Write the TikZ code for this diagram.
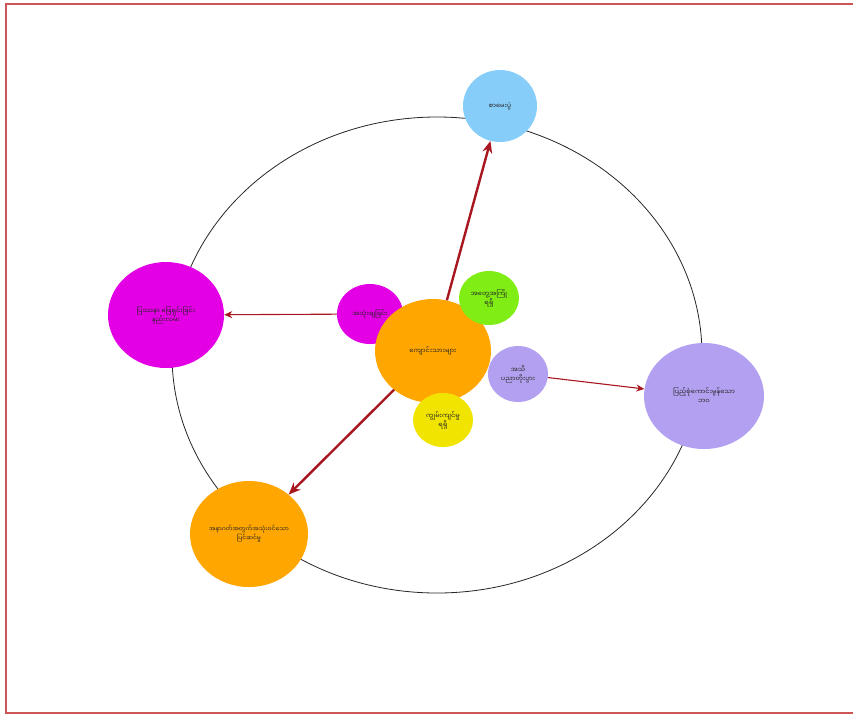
\documentclass[tikz,border=0pt]{standalone}
\usepackage{fontspec}
\newfontfamily\mya[Script=Myanmar]{Noto Sans Myanmar UI}
\usetikzlibrary{shapes.geometric,arrows.meta}
\definecolor{framered}{RGB}{205,85,85}
\definecolor{arrred}{RGB}{168,22,32}
\definecolor{skyb}{RGB}{135,205,250}
\definecolor{magen}{RGB}{228,0,228}
\definecolor{orng}{RGB}{255,166,0}
\definecolor{lgreen}{RGB}{128,238,20}
\definecolor{lav}{RGB}{180,160,240}
\definecolor{yel}{RGB}{240,228,0}
\tikzset{
  bubble/.style={ellipse, draw=none, inner sep=0pt, align=center,
    font=\mya\fontsize{6.6}{9}\selectfont, text=black!85},
  bigarrow/.style={draw=arrred, line width=2.4pt, -{Stealth[length=12pt,width=10pt,inset=4pt]}},
  thinarrow/.style={draw=arrred, line width=1.1pt, -{Stealth[length=8pt,width=7pt,inset=2.5pt]}},
}
\begin{document}
\begin{tikzpicture}[x=1pt,y=-1pt]
\useasboundingbox (0,0) rectangle (853,716);
\fill[white] (0,0) rectangle (853,716);
\draw[framered, line width=1.6pt] (854,4) -- (6,4) -- (6,713) -- (854,713);
\draw[black!85, line width=0.8pt] (437,355) ellipse [x radius=265pt, y radius=238pt];
\node[bubble, fill=skyb, minimum width=74pt, minimum height=72pt] (top) at (500,106) {စာမေးပွဲ};
\node[bubble, fill=magen, minimum width=116pt, minimum height=106pt] (left) at (166,315) {ပြဿနာ ဖြေရှင်းခြင်း\\နည်းလမ်း};
\node[bubble, fill=magen, minimum width=66pt, minimum height=60pt] (sml) at (370,314) {အသုံးချခြင်း};
\node[bubble, fill=orng, minimum width=116pt, minimum height=104pt] (ctr) at (433,351) {ကျောင်းသားများ};
\node[bubble, fill=lgreen, minimum width=60pt, minimum height=54pt] (grn) at (489,298) {အတွေ့အကြုံ\\ရရှိ};
\node[bubble, fill=lav, minimum width=60pt, minimum height=56pt] (slav) at (518,374) {အသိ\\ပညာတိုးပွား};
\node[bubble, fill=yel, minimum width=60pt, minimum height=54pt] (yl) at (443,420) {ကျွမ်းကျင်မှု\\ရရှိ};
\node[bubble, fill=lav, minimum width=120pt, minimum height=106pt] (right) at (704,396) {ပြည့်စုံကောင်းမွန်သော\\ဘဝ};
\node[bubble, fill=orng, minimum width=118pt, minimum height=106pt, font=\mya\fontsize{6}{9}\selectfont] (bl) at (249,534) {အနာဂတ်အတွက်အသုံးဝင်သော\\ပြင်ဆင်မှု};
\draw[bigarrow] (ctr) -- (top);
\draw[bigarrow] (ctr) -- (bl);
\draw[thinarrow] (sml) -- (left);
\draw[thinarrow] (slav) -- (right);
\end{tikzpicture}
\end{document}
